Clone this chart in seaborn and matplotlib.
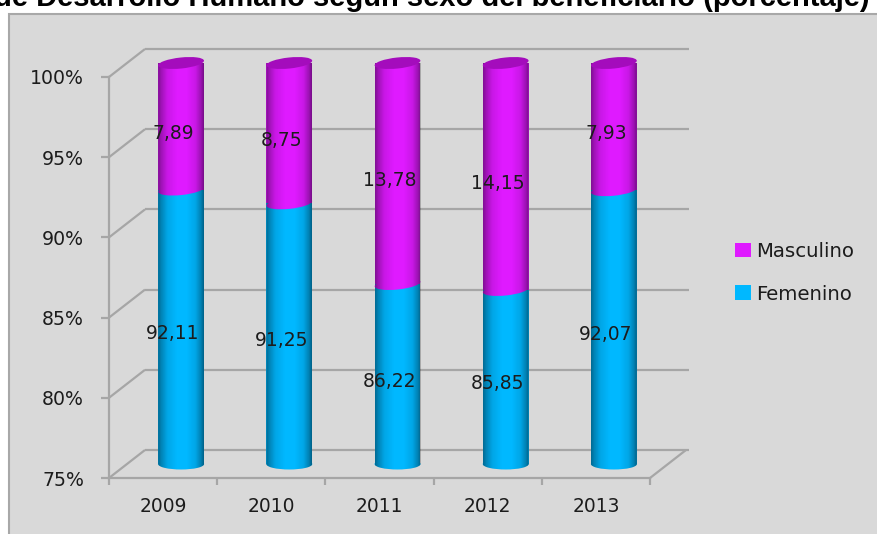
import numpy as np
import pandas as pd
import matplotlib
matplotlib.use("Agg")
import matplotlib.pyplot as plt
import seaborn as sns
from matplotlib.patches import Ellipse, Rectangle
from matplotlib.path import Path
from matplotlib.transforms import Affine2D, IdentityTransform, ScaledTranslation

years = ["2009", "2010", "2011", "2012", "2013"]
femenino = [92.11, 91.25, 86.22, 85.85, 92.07]
masculino = [7.89, 8.75, 13.78, 14.15, 7.93]
fem_labels = ["92,11", "91,25", "86,22", "85,85", "92,07"]
mas_labels = ["7,89", "8,75", "13,78", "14,15", "7,93"]
y_ticks = [75, 80, 85, 90, 95, 100]
y_tick_labels = ["75%", "80%", "85%", "90%", "95%", "100%"]
title = "de Desarrollo Humano según sexo del beneficiario (porcentaje)"

W, H = 877, 534
BG = "#d9d9d9"
GRID = "#a6a6a6"
CYAN = "#00b8ff"
MAG = "#df1aff"
MAG_TOP = "#a40cbc"
TXT = "#1c1c1c"

sns.set_theme(style="white", rc={"font.family": ["DejaVu Sans"]})
fig = plt.figure(figsize=(W / 100, H / 100), dpi=100, facecolor="white")
fig.patches.append(Rectangle((9 / W, -20 / H), (W + 20) / W, (H + 6) / H, transform=fig.transFigure,
                             facecolor=BG, edgecolor="#a8a8a8", linewidth=1.5, figure=fig, zorder=-5))
fig.text(870 / W, 1 - 5.5 / H, title, ha="right", va="baseline", fontsize=21, fontweight="bold",
         family="Liberation Sans", color="black", zorder=-4)

# axes: front plane x 109..689, y 49..478 in pixels
ax = fig.add_axes([109 / W, 1 - 478 / H, (689 - 109) / W, (478 - 49) / H])
ax.patch.set_alpha(0)

df = pd.DataFrame({
    "year": years * 2,
    "serie": ["Masculino"] * 5 + ["Femenino"] * 5,
    "top": [f + m for f, m in zip(femenino, masculino)] + femenino,
})
sns.barplot(data=df, x="year", y="top", hue="serie", hue_order=["Masculino", "Femenino"],
            palette={"Masculino": MAG, "Femenino": CYAN}, dodge=False, width=0.425,
            saturation=1, linewidth=0, ax=ax, zorder=3)

px_x = 108.2
px_y = 16.04
ax.set_xlim(-0.5, -0.5 + (689 - 109) / px_x)
ax.set_ylim(75, 75 + (478 - 49) / px_y)
fig.canvas.draw()

# back wall and depth lines
dx, dy = 36 / px_x, 28 / px_y
gl = dict(color=GRID, lw=1.6, clip_on=False, zorder=1, solid_capstyle="butt")
for t in y_ticks:
    ax.plot([-0.5, -0.5 + dx], [t, t + dy], **gl)
    ax.plot([-0.5 + dx, 4.5 + dx + 0.03], [t + dy, t + dy], **gl)
ax.plot([4.5, 4.5 + dx], [75, 75 + dy], **gl)

# cylinders shifted to mid depth
shift = Affine2D().translate(18, 14)
cyl = ax.transData + shift
mas_bars, fem_bars = ax.containers[0], ax.containers[1]
profile = np.interp(np.linspace(0, 1, 64),
                    [0, 0.06, 0.2, 0.42, 0.62, 0.82, 0.94, 1],
                    [0.42, 0.3, 0.1, 0, 0, 0.1, 0.3, 0.46])
shade = np.zeros((1, 64, 4))
shade[..., 3] = profile


def ell(x, y, color, zorder, h=11, angle=6):
    e = Ellipse((0, 0), 46, h, angle=angle, facecolor=color, edgecolor="none", zorder=zorder,
                transform=ScaledTranslation(x, y, cyl), clip_on=False)
    ax.add_patch(e)
    return e


for m, f in zip(mas_bars.patches, fem_bars.patches):
    xc = m.get_x() + m.get_width() / 2
    top = m.get_height()
    mid = f.get_height()
    for p, base in ((m, mid), (f, 75)):
        p.set_y(base)
        p.set_height(p.get_height() - base)
        p.set_transform(cyl)
        p.set_clip_on(False)
    ell(xc, 75, CYAN, 2.9, angle=0, h=11)
    ell(xc, mid, MAG, 3.2)
    # shading restricted to the cylinder outline
    (x0, y0), (x1, y1) = cyl.transform([(m.get_x(), 75), (m.get_x() + m.get_width(), top)])
    t = np.linspace(np.pi, 2 * np.pi, 30)
    xs = (x0 + x1) / 2 + (x1 - x0) / 2 * np.cos(t)
    ys = y0 + 5.5 * np.sin(t)
    verts = list(zip(xs, ys)) + [(x1, y1), (x0, y1), (xs[0], ys[0])]
    im = ax.imshow(shade, extent=[m.get_x(), m.get_x() + m.get_width(), 74, top], aspect="auto",
                   interpolation="bilinear", zorder=3.5)
    im.set_transform(cyl)
    im.set_clip_path(Path(verts, closed=True), IdentityTransform())
    ell(xc, top, MAG_TOP, 3.8)

ax.set_xlim(-0.5, -0.5 + (689 - 109) / px_x)
ax.set_ylim(75, 75 + (478 - 49) / px_y)
ax.set_aspect("auto")

# data labels
lab = dict(ha="center", va="center", fontsize=13.5, color=TXT, textcoords="offset points",
           xytext=(10 * 0.72, 7 * 0.72), zorder=6, annotation_clip=False)
for i, (f, m) in enumerate(zip(femenino, masculino)):
    ax.annotate(fem_labels[i], (i, (75 + f) / 2), **lab)
    ax.annotate(mas_labels[i], (i, f + m / 2), **lab)

# axes cosmetics
for s in ("top", "right"):
    ax.spines[s].set_visible(False)
for s in ("left", "bottom"):
    ax.spines[s].set_color(GRID)
    ax.spines[s].set_linewidth(1.6)
ax.spines["left"].set_bounds(75, 100)
ax.spines["bottom"].set_bounds(-0.5, 4.5)
ax.set_xlabel("")
ax.set_ylabel("")
ax.set_yticks(y_ticks, y_tick_labels, fontsize=13.6, color=TXT)
ax.set_xticks(range(5), years, fontsize=13.4, color=TXT)
ax.set_xticks(np.arange(-0.5, 5), minor=True)
ax.tick_params(axis="y", left=True, length=6, width=1.6, color=GRID, pad=12)
ax.tick_params(axis="x", which="major", bottom=False, pad=8)
ax.tick_params(axis="x", which="minor", bottom=True, length=5, width=1.6, color=GRID)

handles, labels = ax.get_legend_handles_labels()
ax.get_legend().remove()
fig.legend(handles, labels, loc="upper left", bbox_to_anchor=(729 / W, 1 - 236 / H), frameon=False,
           fontsize=14.2, handlelength=0.8, handleheight=0.75, handletextpad=0.3, labelspacing=1.2,
           labelcolor=TXT, borderpad=0.3, borderaxespad=0)

fig.savefig("out.png", dpi=100, facecolor="white")
